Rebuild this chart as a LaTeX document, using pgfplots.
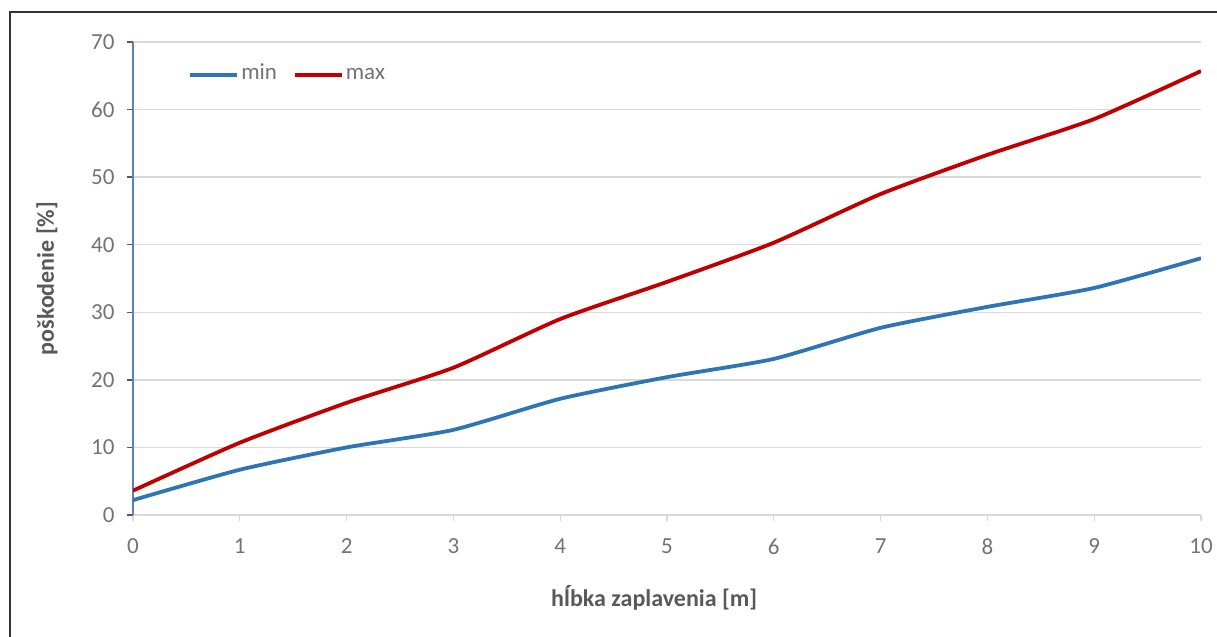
\documentclass[border=0pt]{standalone}
\usepackage{fontspec}
\setmainfont{Carlito}
\usepackage{pgfplots}
\pgfplotsset{compat=1.18}
\definecolor{cmin}{RGB}{46,117,182}
\definecolor{cmax}{RGB}{192,0,0}
\definecolor{txt}{RGB}{89,89,89}
\definecolor{ticktxt}{RGB}{115,115,115}
\definecolor{gridc}{RGB}{217,217,217}
\definecolor{yax}{RGB}{90,130,180}
\pgfplotstableread{
x min max
0 2.2 3.6
1 6.7 10.7
2 10.0 16.6
3 12.6 21.8
4 17.2 29.0
5 20.4 34.5
6 23.1 40.3
7 27.7 47.5
8 30.8 53.3
9 33.6 58.6
10 38.0 65.7
}\datatable
\begin{document}
\begin{tikzpicture}[font=\fontsize{23bp}{27bp}\selectfont]
\begin{axis}[
  name=ax,
  at={(0,0)}, anchor=south west,
  scale only axis, width=1068bp, height=473bp,
  xmin=0, xmax=10, ymin=0, ymax=70,
  xtick={0,1,...,10}, ytick={0,10,...,70},
  axis lines*=left,
  x axis line style={gridc, line width=1.5bp},
  y axis line style={yax, line width=1.5bp},
  ymajorgrids, grid style={gridc, line width=1.3bp},
  tick align=outside, major tick length=6bp,
  xtick style={gridc, line width=1.3bp},
  ytick style={txt, line width=1.3bp},
  tick label style={text=ticktxt, font=\fontsize{23bp}{27bp}\selectfont},
  /pgf/number format/assume math mode=true,
  xticklabel style={yshift=-14bp},
  yticklabel style={xshift=-9bp},
  xlabel={\textbf{hĺbka zaplavenia [m]}},
  ylabel={\textbf{poškodenie [\%]}},
  label style={text=txt, font=\fontsize{24bp}{28bp}\selectfont},
  xlabel style={at={(axis description cs:0.488,-0.1755)}, anchor=center},
  ylabel style={at={(axis description cs:-0.0805,0.5)}, anchor=center},
  legend columns=2,
  legend style={at={(axis description cs:0.049,0.926)}, anchor=west, draw=none, fill=none,
    font=\fontsize{23bp}{27bp}\selectfont, text=ticktxt,
    nodes={text height=1.1ex, text depth=0pt},
    /tikz/every even column/.append style={column sep=14bp}},
  legend image code/.code={\draw[#1, line width=3.8bp] (0bp,0.5ex) -- (47bp,0.5ex);},
]
\addplot[cmin, line width=3.8bp, smooth, tension=0.35] table[x=x, y=min] {\datatable};
\addlegendentry{min}
\addplot[cmax, line width=3.8bp, smooth, tension=0.35] table[x=x, y=max] {\datatable};
\addlegendentry{max}
\end{axis}
\draw[black!80, line width=1.5bp] ([xshift=-123bp,yshift=-130bp]ax.south west) -- ([xshift=-123bp,yshift=30bp]ax.north west) -- ([xshift=20bp,yshift=30bp]ax.north east);
\pgfresetboundingbox
\useasboundingbox ([xshift=-133bp,yshift=-122bp]ax.south west) rectangle ([xshift=16bp,yshift=42bp]ax.north east);
\end{tikzpicture}
\end{document}
